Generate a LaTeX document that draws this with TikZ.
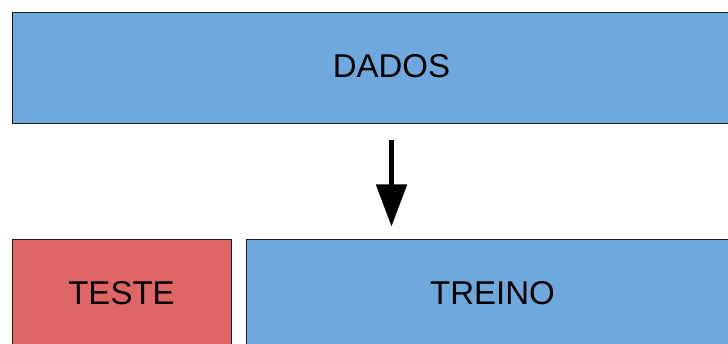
\documentclass[tikz,border=0pt]{standalone}
\usepackage{fontspec}
\setmainfont{Liberation Sans}
\usetikzlibrary{arrows.meta}
\definecolor{boxblue}{HTML}{6FA8DC}
\definecolor{boxred}{HTML}{E06666}
\definecolor{edge}{HTML}{1A1A1A}
\begin{document}
\begin{tikzpicture}[x=1pt,y=-1pt,
  block/.style={draw=edge,line width=1pt,inner sep=0pt,
    font=\fontsize{33}{33}\selectfont,text depth=6pt},
  flow/.style={line width=5pt,-{Triangle[width=30pt,length=42pt]}}]
  \useasboundingbox (0,0) rectangle (728,344);
  \clip (0,0) rectangle (728,344);
  % data set, split into test and training parts
  \node[block,fill=boxblue,minimum width=759pt,minimum height=111pt]
    (dados) at (391.5,68.5) {DADOS};
  \node[block,fill=boxred,minimum width=219pt,minimum height=111pt]
    (teste) at (121.5,295.5) {TESTE};
  \node[block,fill=boxblue,minimum width=493pt,minimum height=111pt]
    (treino) at (492.5,295.5) {TREINO};
  \draw[flow] ([yshift=-16pt]dados.south) -- ([yshift=13pt]dados.south |- treino.north);
\end{tikzpicture}
\end{document}
